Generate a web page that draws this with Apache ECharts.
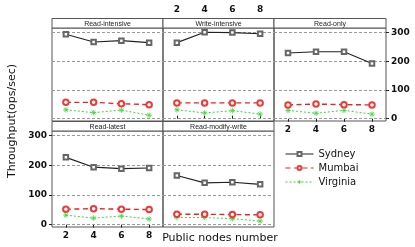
<!DOCTYPE html>
<html>
<head>
<meta charset="utf-8">
<script src="https://cdn.jsdelivr.net/npm/echarts@6/dist/echarts.min.js"></script>
<style>
html,body{margin:0;padding:0;background:#fff;}
#chart{width:415px;height:247px;}
</style>
</head>
<body>
<div id="chart"></div>
<script>
// ---- data ----
const nodeCats = ['2', '4', '6', '8'];
const panelNames = ['Read-intensive', 'Write-intensive', 'Read-only', 'Read-latest', 'Read-modify-write'];
const seriesNames = ['Sydney', 'Mumbai', 'Virginia'];
const yTickValues = [0, 100, 200, 300];

const sydReadIntensive = [294, 267, 272, 265];
const mumReadIntensive = [57, 57, 52, 49];
const virReadIntensive = [31, 21, 30, 12];

const sydWriteIntensive = [265, 301, 300, 296];
const mumWriteIntensive = [55, 55, 55, 55];
const virWriteIntensive = [31, 20, 28, 16];

const sydReadOnly = [229, 233, 233, 192];
const mumReadOnly = [48, 51, 49, 48];
const virReadOnly = [29, 19, 29, 16];

const sydReadLatest = [227, 194, 189, 191];
const mumReadLatest = [52, 54, 52, 51];
const virReadLatest = [32, 22, 29, 19];

const sydReadModifyWrite = [166, 141, 143, 136];
const mumReadModifyWrite = [35, 35, 34, 33];
const virReadModifyWrite = [24, 24, 20, 12];

const panelData = [
  [sydReadIntensive, mumReadIntensive, virReadIntensive],
  [sydWriteIntensive, mumWriteIntensive, virWriteIntensive],
  [sydReadOnly, mumReadOnly, virReadOnly],
  [sydReadLatest, mumReadLatest, virReadLatest],
  [sydReadModifyWrite, mumReadModifyWrite, virReadModifyWrite]
];

// ---- layout ----
const STRIP_H = 9.5;
const layout = [
  { left: 52, top: 28, width: 111, height: 93 },
  { left: 163, top: 28, width: 111, height: 93 },
  { left: 274, top: 28, width: 112, height: 93 },
  { left: 52, top: 131, width: 111, height: 96 },
  { left: 163, top: 131, width: 111, height: 96 }
];
const xLabelPos = [null, 'top', 'bottom', 'bottom', null];
const yLabelPos = [null, null, 'right', 'left', null];

const BORDER = '#555';
const tickFont = { fontFamily: 'DejaVu Sans', fontWeight: 'bold', fontSize: 9, color: '#111' };

const styles = [
  { color: '#222', symColor: '#666', lineType: 'solid', width: 1.1, symbol: 'emptyRect', size: 4.5 },
  { color: '#ee2020', symColor: '#ee3a3a', lineType: [5, 3.5], width: 1.4, symbol: 'emptyCircle', size: 5.5 },
  { color: '#3ad83a', symColor: '#3ad83a', lineType: [2, 2], width: 1, symbol: 'path://M0,5L10,5M5,0L5,10M1.5,1.5L8.5,8.5M8.5,1.5L1.5,8.5', size: 5.5 }
];

const grids = [], xAxes = [], yAxes = [], series = [], graphics = [];

layout.forEach((g, i) => {
  grids.push({ left: g.left, top: g.top, width: g.width, height: g.height, show: true, borderColor: BORDER, borderWidth: 1, backgroundColor: 'transparent' });
  const xp = xLabelPos[i];
  xAxes.push({
    gridIndex: i, type: 'category', data: nodeCats, boundaryGap: true,
    position: xp === 'top' ? 'top' : 'bottom',
    offset: xp === 'top' ? STRIP_H : 0,
    axisLine: { show: false },
    axisTick: { show: !!xp, alignWithLabel: true, length: 3, lineStyle: { color: '#222' } },
    axisLabel: Object.assign({ show: !!xp, margin: 4, interval: 0 }, tickFont),
    splitLine: { show: false }
  });
  const yp = yLabelPos[i];
  yAxes.push({
    gridIndex: i, type: 'value', min: -8, max: 316,
    position: yp === 'right' ? 'right' : 'left',
    axisLine: { show: false },
    axisTick: { show: !!yp, length: 3, customValues: yTickValues, lineStyle: { color: '#222' } },
    axisLabel: Object.assign({ show: !!yp, margin: 5, customValues: yTickValues }, tickFont),
    splitLine: { show: false }
  });
  panelData[i].forEach((arr, s) => {
    const st = styles[s];
    const ser = {
      name: seriesNames[s], type: 'line', xAxisIndex: i, yAxisIndex: i,
      data: arr, symbol: st.symbol, symbolSize: st.size, showSymbol: false,
      animation: false, silent: true, z: 3 + (2 - s),
      lineStyle: { color: st.color, width: st.width, type: st.lineType },
      itemStyle: { color: st.symColor, borderColor: st.symColor, borderWidth: 0.7 }
    };
    if (s === 0) {
      ser.markLine = {
        silent: true, symbol: ['none', 'none'], animation: false, z: 1,
        label: { show: false },
        lineStyle: { color: '#9a9a9a', type: [3, 2], width: 1 },
        data: yTickValues.map(v => ({ yAxis: v }))
      };
    }
    series.push(ser);
    series.push({
      name: seriesNames[s] + ' points', type: 'scatter', xAxisIndex: i, yAxisIndex: i,
      data: arr, symbol: st.symbol, symbolSize: st.size,
      animation: false, silent: true, z: 6 + (2 - s),
      itemStyle: { color: st.symColor, borderColor: st.symColor, borderWidth: 0.8, opacity: 1 }
    });
  });
  graphics.push({
    type: 'rect', shape: { x: g.left, y: g.top - STRIP_H, width: g.width, height: STRIP_H },
    style: { fill: '#fff', stroke: BORDER, lineWidth: 1 }, z: 10
  });
  graphics.push({
    type: 'text', x: g.left + g.width / 2, y: g.top - STRIP_H / 2 + 0.5,
    style: { text: panelNames[i], fill: '#222', font: '7px "Liberation Sans"', textAlign: 'center', textVerticalAlign: 'middle' }, z: 11
  });
});

graphics.push({
  type: 'text', x: 12.5, y: 121, rotation: Math.PI / 2,
  style: { text: 'Throughput(ops/sec)', fill: '#111', font: '11px "DejaVu Sans"', textAlign: 'center', textVerticalAlign: 'middle' }
});
graphics.push({
  type: 'text', x: 220, y: 238,
  style: { text: 'Public nodes number', fill: '#111', font: '11px "DejaVu Sans"', textAlign: 'center', textVerticalAlign: 'middle' }
});

const chart = echarts.init(document.getElementById('chart'), null, { renderer: 'canvas' });
chart.setOption({
  animation: false,
  backgroundColor: '#fff',
  grid: grids,
  xAxis: xAxes,
  yAxis: yAxes,
  series: series,
  legend: {
    data: seriesNames, orient: 'vertical', left: 285, top: 148, padding: 0,
    itemWidth: 28, itemHeight: 5, itemGap: 2,
    itemStyle: { borderWidth: 0.6 },
    lineStyle: { width: 1 },
    textStyle: { fontFamily: 'DejaVu Sans', fontSize: 10, color: '#111', lineHeight: 12 },
    selectedMode: false
  },
  graphic: graphics
});
</script>
</body>
</html>
